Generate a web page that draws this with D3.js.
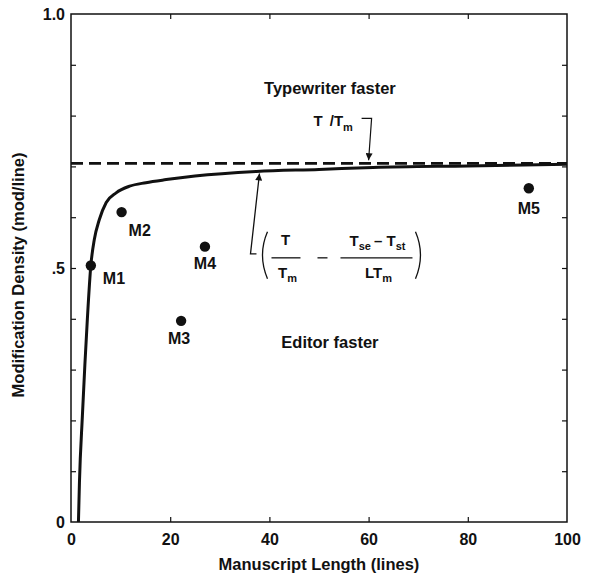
<!DOCTYPE html>
<html>
<head>
<meta charset="utf-8">
<script src="https://cdn.jsdelivr.net/npm/d3@7"></script>
<style>
  body { margin: 0; background: #fff; }
  text { font-family: 'Liberation Sans', Arial, sans-serif; fill: #111; }
</style>
</head>
<body>
<svg id="chart"></svg>
<script>
// curve
const curveLength = [1.5, 1.7, 2.3, 2.8, 3.3, 4.0, 4.7, 5.7, 7.1, 9.1, 11.8, 15.1, 19.2, 25, 37.4, 50, 60.9, 80, 100]
const curveDensity = [0, 0.077, 0.21, 0.31, 0.40, 0.505, 0.556, 0.595, 0.629, 0.648, 0.661, 0.668, 0.674, 0.681, 0.690, 0.694, 0.698, 0.701, 0.704]

// asymptote T/Tm
const asymptote = 0.706

// manuscripts
const msNames = ['M1', 'M2', 'M3', 'M4', 'M5']
const msLength = [4.0, 10.2, 22.2, 27.0, 92.3]
const msDensity = [0.505, 0.61, 0.396, 0.542, 0.657]

const xTicks = [0, 20, 40, 60, 80, 100]
const yTicks = [0, 0.1, 0.2, 0.3, 0.4, 0.5, 0.6, 0.7, 0.8, 0.9, 1.0]
const yLabels = { 0: '0', 0.5: '.5', 1: '1.0' }

const W = 594, H = 577
const m = { top: 14, right: 27, bottom: 55, left: 71 }
const w = W - m.left - m.right
const h = H - m.top - m.bottom

const svg = d3.select('#chart').attr('width', W).attr('height', H)

svg.append('defs').append('marker')
    .attr('id', 'head')
    .attr('viewBox', '0 0 10 10')
    .attr('refX', 10).attr('refY', 5)
    .attr('markerWidth', 9).attr('markerHeight', 7)
    .attr('markerUnits', 'userSpaceOnUse')
    .attr('orient', 'auto')
  .append('path')
    .attr('d', 'M0,0 L10,5 L0,10 Z')
    .attr('fill', '#111')

const g = svg.append('g').attr('transform', `translate(${m.left},${m.top})`)

const x = d3.scaleLinear().domain([0, 100]).range([0, w])
const y = d3.scaleLinear().domain([0, 1]).range([h, 0])

// frame
g.append('rect')
    .attr('width', w).attr('height', h)
    .attr('fill', 'none').attr('stroke', '#111').attr('stroke-width', 1.5)

const inner = [20, 40, 60, 80]
const innerY = yTicks.filter(d => d > 0 && d < 1)

const styleAxis = sel => {
  sel.select('.domain').remove()
  sel.selectAll('line').attr('stroke', '#111').attr('stroke-width', 1.2)
  sel.selectAll('text')
      .style('font-family', "'Liberation Sans', Arial, sans-serif")
      .style('font-size', '16px')
      .style('font-weight', 'bold')
      .attr('fill', '#111')
}

// bottom labels + inward ticks
g.append('g')
    .attr('transform', `translate(0,${h})`)
    .call(d3.axisBottom(x).tickValues(xTicks).tickSize(-5).tickPadding(12))
    .call(styleAxis)
    .call(s => s.selectAll('.tick').filter(d => d === 0 || d === 100).select('line').remove())

// top ticks
g.append('g')
    .call(d3.axisTop(x).tickValues(inner).tickSize(-5).tickFormat(''))
    .call(styleAxis)

// left labels + inward ticks
g.append('g')
    .call(d3.axisLeft(y).tickValues(yTicks).tickSize(-5).tickPadding(6)
      .tickFormat(d => yLabels[d] || ''))
    .call(styleAxis)
    .call(s => s.selectAll('.tick').filter(d => d === 0 || d === 1).select('line').remove())

// right ticks
g.append('g')
    .attr('transform', `translate(${w},0)`)
    .call(d3.axisRight(y).tickValues(innerY).tickSize(-5).tickFormat(''))
    .call(styleAxis)

// axis titles
svg.append('text')
    .attr('x', m.left + w / 2).attr('y', H - 7)
    .attr('text-anchor', 'middle')
    .style('font-size', '16.5px').style('font-weight', 'bold')
    .text('Manuscript Length (lines)')

svg.append('text')
    .attr('transform', `translate(24,${m.top + h / 2 + 7}) rotate(-90)`)
    .attr('text-anchor', 'middle')
    .style('font-size', '16.5px').style('font-weight', 'bold')
    .text('Modification Density (mod/line)')

// dashed asymptote
g.append('line')
    .attr('x1', x(0)).attr('x2', x(100))
    .attr('y1', y(asymptote)).attr('y2', y(asymptote))
    .attr('stroke', '#111').attr('stroke-width', 2.6)
    .attr('stroke-dasharray', '12,6')

// solid curve
const curve = curveLength.map((d, i) => [d, curveDensity[i]])
g.append('path')
    .datum(curve)
    .attr('fill', 'none').attr('stroke', '#111').attr('stroke-width', 3)
    .attr('d', d3.line().x(d => x(d[0])).y(d => y(d[1])).curve(d3.curveMonotoneX))

// manuscripts
const ms = msNames.map((n, i) => ({ name: n, L: msLength[i], D: msDensity[i] }))
g.selectAll('circle.ms')
    .data(ms)
    .enter()
    .append('circle')
    .attr('class', 'ms')
    .attr('cx', d => x(d.L)).attr('cy', d => y(d.D))
    .attr('r', 5.2)
    .attr('fill', '#111')

const labelOffset = { M1: [12, 19, 'start'], M2: [7, 24, 'start'], M3: [-2, 23, 'middle'], M4: [0, 22, 'middle'], M5: [0, 26, 'middle'] }
g.selectAll('text.ms')
    .data(ms)
    .enter()
    .append('text')
    .attr('class', 'ms')
    .attr('x', d => x(d.L) + labelOffset[d.name][0])
    .attr('y', d => y(d.D) + labelOffset[d.name][1])
    .attr('text-anchor', d => labelOffset[d.name][2])
    .style('font-size', '16px').style('font-weight', 'bold')
    .text(d => d.name)

// region labels
g.append('text')
    .attr('x', x(52.2)).attr('y', y(0.854) + 6)
    .attr('text-anchor', 'middle')
    .style('font-size', '16.5px').style('font-weight', 'bold')
    .text('Typewriter faster')

g.append('text')
    .attr('x', x(52.2)).attr('y', y(0.354) + 6)
    .attr('text-anchor', 'middle')
    .style('font-size', '16.5px').style('font-weight', 'bold')
    .text('Editor faster')

// T/Tm annotation
const tx = x(60), ty = y(0.712)
const tl = g.append('text')
    .attr('x', tx - 55).attr('y', ty - 34)
    .style('font-size', '15px').style('font-weight', 'bold')
tl.append('tspan').text('T')
tl.append('tspan').attr('dx', 7).text('/T')
tl.append('tspan').attr('dy', 5).style('font-size', '11px').text('m')

g.append('path')
    .attr('d', `M${tx - 7},${ty - 42} L${tx + 3},${ty - 42} L${tx},${ty}`)
    .attr('fill', 'none').attr('stroke', '#111').attr('stroke-width', 1.2)
    .attr('marker-end', 'url(#head)')

// formula annotation
const ox = x(38), oy = y(0.52)
const fg = g.append('g').attr('transform', `translate(${ox},${oy})`)
const pen = s => s.attr('fill', 'none').attr('stroke', '#111').attr('stroke-width', 1.3)

fg.append('path')
    .attr('d', `M-3,-4 L-9,-4 L0,${y(0.686) - oy}`)
    .call(pen)
    .attr('marker-end', 'url(#head)')

fg.append('path').attr('d', 'M8,-26 Q-2,-3 8,21').call(pen)
fg.append('path').attr('d', 'M156,-26 Q166,-3 156,21').call(pen)

fg.append('line').attr('x1', 12).attr('x2', 41).attr('y1', 0).attr('y2', 0).call(pen)
fg.append('line').attr('x1', 58).attr('x2', 68).attr('y1', 0).attr('y2', 0).call(pen)
fg.append('line').attr('x1', 81).attr('x2', 153).attr('y1', 0).attr('y2', 0).call(pen)

const ftext = (xx, yy) => fg.append('text')
    .attr('x', xx).attr('y', yy)
    .attr('text-anchor', 'middle')
    .style('font-size', '15px').style('font-weight', 'bold')

ftext(26, -13).text('T')
const d1 = ftext(28, 20)
d1.append('tspan').text('T')
d1.append('tspan').attr('dy', 4).style('font-size', '11px').text('m')

const n2 = ftext(118, -12)
n2.append('tspan').text('T')
n2.append('tspan').attr('dy', 4).style('font-size', '11px').text('se')
n2.append('tspan').attr('dy', -4).attr('dx', 3).text('\u2013 T')
n2.append('tspan').attr('dy', 4).style('font-size', '11px').text('st')

const d2 = ftext(119, 20)
d2.append('tspan').text('LT')
d2.append('tspan').attr('dy', 4).style('font-size', '11px').text('m')
</script>
</body>
</html>
